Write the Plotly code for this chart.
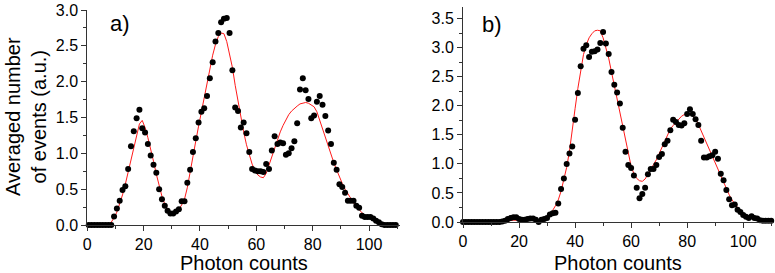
import plotly.graph_objects as go

# ---------------- Panel a data ----------------
a_counts = [i + 0.5 for i in range(110)]
a_events = [
    0.0, 0.0, 0.0, 0.0, 0.0, 0.0, 0.0, 0.0, 0.0, 0.12,
    0.23, 0.34, 0.49, 0.54, 0.78, 1.10, 1.31, 1.49, 1.61, 1.35,
    1.29, 1.13, 0.97, 0.84, 0.73, 0.50, 0.36, 0.27, 0.20, 0.16,
    0.16, 0.19, 0.22, 0.33, 0.33, 0.59, 0.77, 1.02, 1.21, 1.43,
    1.58, 1.63, 1.80, 2.05, 2.27, 2.56, 2.68, 2.83, 2.88, 2.89,
    2.68, 2.16, 1.64, 1.59, 1.36, 1.43, 1.28, 1.02, 0.78, 0.76,
    0.75, 0.75, 0.74, 0.85, 0.78, 1.04, 1.24, 1.13, 1.15, 1.14,
    0.98, 1.00, 1.07, 1.17, 1.42, 1.89, 2.05, 1.88, 1.76, 1.49,
    1.53, 1.72, 1.80, 1.68, 1.52, 1.32, 1.13, 0.87, 0.77, 0.57,
    0.53, 0.45, 0.34, 0.34, 0.34, 0.27, 0.24, 0.13, 0.11, 0.11,
    0.11, 0.09, 0.06, 0.04, 0.01, 0.0, 0.0, 0.0, 0.0, 0.0,
]
a_fit = [
    0.0, 0.0, 0.0, 0.0, 0.0, 0.0, 0.0, 0.01, 0.04, 0.10,
    0.18, 0.29, 0.42, 0.57, 0.74, 0.92, 1.10, 1.27, 1.41, 1.46,
    1.36, 1.22, 1.07, 0.89, 0.71, 0.54, 0.40, 0.29, 0.22, 0.18,
    0.16, 0.18, 0.22, 0.28, 0.36, 0.52, 0.72, 0.94, 1.17, 1.38,
    1.58, 1.79, 2.00, 2.19, 2.37, 2.52, 2.63, 2.68, 2.67, 2.56,
    2.40, 2.20, 1.95, 1.72, 1.50, 1.30, 1.12, 0.97, 0.85, 0.76,
    0.70, 0.67, 0.66, 0.72, 0.84, 0.96, 1.08, 1.19, 1.30, 1.39,
    1.47, 1.54, 1.59, 1.63, 1.66, 1.69, 1.70, 1.71, 1.70, 1.68,
    1.65, 1.58, 1.46, 1.33, 1.22, 1.10, 0.98, 0.87, 0.77, 0.67,
    0.58, 0.50, 0.43, 0.36, 0.31, 0.26, 0.21, 0.17, 0.14, 0.12,
    0.09, 0.07, 0.05, 0.04, 0.03, 0.02, 0.01, 0.0, 0.0, 0.0,
]

# ---------------- Panel b data ----------------
b_counts = list(range(111))
b_events = [
    0.0, 0.0, 0.0, 0.0, 0.0, 0.0, 0.0, 0.0, 0.0, 0.0,
    0.0, 0.0, 0.0, 0.0, 0.01, 0.02, 0.05, 0.07, 0.08, 0.08,
    0.05, 0.04, 0.04, 0.05, 0.06, 0.06, 0.04, 0.00, 0.04, 0.05,
    0.07, 0.13, 0.15, 0.16, 0.32, 0.57, 0.75, 1.00, 1.18, 1.30,
    1.76, 2.22, 2.68, 2.98, 3.04, 2.84, 2.93, 2.94, 2.97, 3.08,
    3.27, 3.07, 2.89, 2.58, 2.36, 2.23, 2.04, 1.62, 1.21, 0.98,
    0.93, 0.80, 0.59, 0.41, 0.48, 0.59, 0.82, 0.91, 0.91, 0.98,
    1.12, 1.17, 1.34, 1.40, 1.58, 1.76, 1.72, 1.67, 1.66, 1.70,
    1.86, 1.94, 1.86, 1.77, 1.67, 1.40, 1.11, 1.11, 1.13, 1.15,
    1.21, 1.09, 0.83, 0.72, 0.55, 0.39, 0.29, 0.30, 0.21, 0.17,
    0.12, 0.09, 0.07, 0.10, 0.07, 0.06, 0.03, 0.02, 0.02, 0.02,
    0.02,
]
b_fit = [
    0.0, 0.0, 0.0, 0.0, 0.0, 0.0, 0.0, 0.0, 0.0, 0.0,
    0.0, 0.0, 0.0, 0.0, 0.005, 0.01, 0.02, 0.03, 0.03, 0.03,
    0.03, 0.03, 0.03, 0.02, 0.02, 0.02, 0.02, 0.03, 0.05, 0.07,
    0.10, 0.15, 0.20, 0.28, 0.38, 0.53, 0.72, 0.94, 1.22, 1.55,
    1.95, 2.30, 2.62, 2.88, 3.05, 3.17, 3.24, 3.29, 3.30, 3.29,
    3.17, 2.99, 2.82, 2.58, 2.35, 2.11, 1.87, 1.63, 1.39, 1.15,
    0.96, 0.83, 0.75, 0.71, 0.70, 0.74, 0.83, 0.92, 0.99, 1.07,
    1.18, 1.29, 1.41, 1.52, 1.60, 1.66, 1.72, 1.77, 1.82, 1.85,
    1.87, 1.87, 1.83, 1.78, 1.68, 1.57, 1.44, 1.33, 1.23, 1.11,
    1.00, 0.90, 0.78, 0.67, 0.56, 0.47, 0.38, 0.31, 0.25, 0.20,
    0.15, 0.12, 0.10, 0.07, 0.05, 0.04, 0.03, 0.02, 0.02, 0.01,
    0.01,
]

x_ticks = [0, 20, 40, 60, 80, 100]
a_yticks = [0.0, 0.5, 1.0, 1.5, 2.0, 2.5, 3.0]
b_yticks = [0.0, 0.5, 1.0, 1.5, 2.0, 2.5, 3.0, 3.5]

FONT = "Liberation Sans, Arial, Helvetica, sans-serif"
W, H = 775, 273
AX = "#333333"

fig = go.Figure()

def add_panel(xs, ys, fx, fy, xa, ya):
    fig.add_trace(go.Scatter(x=fx, y=fy, mode="lines", line=dict(color="#ff1a1a", width=1),
                             xaxis=xa, yaxis=ya, cliponaxis=False, showlegend=False, hoverinfo="skip"))
    fig.add_trace(go.Scatter(x=xs, y=ys, mode="markers", marker=dict(color="black", size=6),
                             xaxis=xa, yaxis=ya, cliponaxis=False, showlegend=False))

add_panel(a_counts, a_events, a_counts, a_fit, "x", "y")
add_panel(b_counts, b_events, b_counts, b_fit, "x2", "y2")

def xaxis(domain, anchor):
    return dict(domain=domain, anchor=anchor, range=[0, 111], tickvals=x_ticks, automargin=False,
                ticktext=[str(v) for v in x_ticks], ticks="outside", ticklen=5, tickwidth=1,
                tickcolor=AX, showline=True, linecolor=AX, linewidth=1, showgrid=False,
                zeroline=False, tickfont=dict(family=FONT, size=16, color="black"),
                minor=dict(ticks="outside", ticklen=3, tickcolor=AX, dtick=10, tick0=0, showgrid=False))

def yaxis(domain, anchor, rng, vals):
    return dict(domain=domain, anchor=anchor, range=rng, tickvals=vals, automargin=False,
                ticktext=["%.1f" % v for v in vals], ticks="outside", ticklen=5, tickwidth=1,
                tickcolor=AX, showline=True, linecolor=AX, linewidth=1, showgrid=False,
                zeroline=False, tickfont=dict(family=FONT, size=16, color="black"),
                minor=dict(ticks="outside", ticklen=3, tickcolor=AX, dtick=0.25, tick0=0, showgrid=False))

fig.update_layout(
    width=W, height=H, margin=dict(l=0, r=0, t=0, b=0, autoexpand=False),
    paper_bgcolor="white", plot_bgcolor="white",
    xaxis=xaxis([87.3 / W, 400 / W], "y"),
    yaxis=yaxis([48 / H, 263 / H], "x", [0, 3.001], a_yticks),
    xaxis2=xaxis([463 / W, 774 / W], "y2"),
    yaxis2=yaxis([51 / H, 266 / H], "x2", [0, 3.7], b_yticks),
)

def ann(text, px, py, size, angle=0):
    fig.add_annotation(text=text, x=px / W, y=1 - py / H, xref="paper", yref="paper",
                       xanchor="center", yanchor="middle", showarrow=False, textangle=angle,
                       font=dict(family=FONT, size=size, color="black"))

ann("a)", 120, 23, 22)
ann("b)", 492, 24, 22)
ann("Photon counts", 244, 263, 20)
ann("Photon counts", 618, 263, 20)
ann("Averaged number<br>of events (a.u.)", 26, 117, 20, -90)

fig.write_html("out.html", config={"displayModeBar": False},
               post_script="document.body.style.margin='0px';document.body.style.overflow='hidden';")
